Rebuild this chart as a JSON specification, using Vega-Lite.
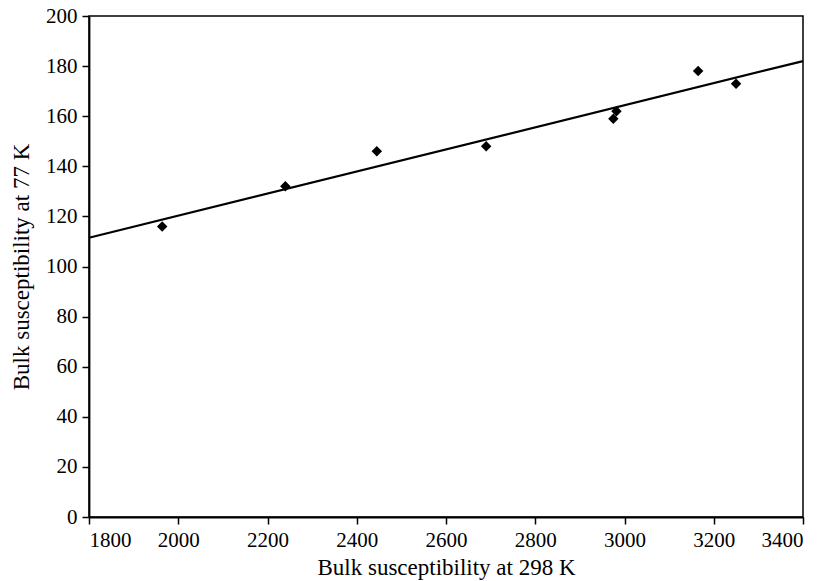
{
  "$schema": "https://vega.github.io/schema/vega-lite/v6.json",
  "autosize": {"type": "none"},
  "padding": {"left": 89, "top": 16, "right": 22, "bottom": 64},
  "width": 714,
  "height": 501,
  "background": "white",
  "config": {
    "view": {"stroke": "#000", "strokeWidth": 1.5},
    "axis": {
      "labelFont": "Liberation Serif",
      "titleFont": "Liberation Serif",
      "labelFontSize": 21,
      "titleFontSize": 23,
      "titleFontWeight": "normal",
      "labelColor": "#000",
      "titleColor": "#000",
      "domainColor": "#000",
      "domainWidth": 1.8,
      "tickColor": "#000",
      "tickWidth": 1.5,
      "tickSize": 7,
      "grid": false
    }
  },
  "datasets": {
    "points": [
      {"x298": 1964, "x77": 116},
      {"x298": 2240, "x77": 132},
      {"x298": 2445, "x77": 146},
      {"x298": 2690, "x77": 148},
      {"x298": 2975, "x77": 159},
      {"x298": 2982, "x77": 162},
      {"x298": 3165, "x77": 178},
      {"x298": 3250, "x77": 173}
    ],
    "fit": [
      {"x298": 1800, "x77": 111.5},
      {"x298": 3400, "x77": 182}
    ]
  },
  "layer": [
    {
      "data": {"name": "fit"},
      "mark": {"type": "line", "color": "#000", "strokeWidth": 2.2},
      "encoding": {
        "x": {"field": "x298", "type": "quantitative"},
        "y": {"field": "x77", "type": "quantitative"}
      }
    },
    {
      "data": {"name": "points"},
      "mark": {"type": "point", "shape": "diamond", "filled": true, "color": "#000", "opacity": 1, "size": 110},
      "encoding": {
        "x": {
          "field": "x298", "type": "quantitative",
          "scale": {"domain": [1800, 3400], "nice": false, "zero": false},
          "axis": {"values": [1800, 2000, 2200, 2400, 2600, 2800, 3000, 3200, 3400], "format": "d", "title": "Bulk susceptibility at 298 K", "labelPadding": 5, "titlePadding": 6}
        },
        "y": {
          "field": "x77", "type": "quantitative",
          "scale": {"domain": [0, 200], "nice": false},
          "axis": {"values": [0, 20, 40, 60, 80, 100, 120, 140, 160, 180, 200], "format": "d", "title": "Bulk susceptibility at 77 K", "labelPadding": 5, "titlePadding": 12}
        }
      }
    }
  ]
}
